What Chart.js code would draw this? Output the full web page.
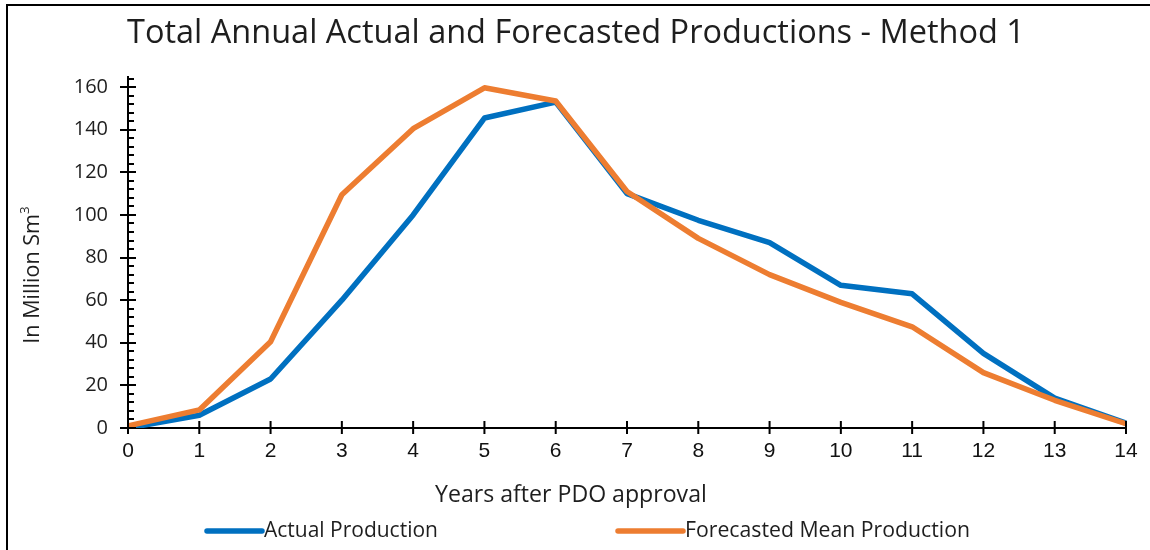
<!DOCTYPE html>
<html>
<head>
<meta charset="utf-8">
<script src="https://cdn.jsdelivr.net/npm/chart.js@4.4.1/dist/chart.umd.min.js"></script>
<style>
  html, body { margin: 0; padding: 0; background: #ffffff; }
  #wrap { width: 1150px; height: 550px; }
</style>
</head>
<body>
<div id="wrap"><canvas id="chart" width="1150" height="550"></canvas></div>
<script>
// Years after PDO approval
const years = [0, 1, 2, 3, 4, 5, 6, 7, 8, 9, 10, 11, 12, 13, 14];
// Annual production, million Sm3
const actualProduction = [0, 6, 23, 60, 100, 145.5, 153, 110, 97.5, 87, 67, 63, 35, 14, 2.3];
const forecastMeanProduction = [1, 8.5, 40.5, 109.5, 140.5, 159.7, 153.5, 111, 89, 72, 59, 47.5, 26, 13, 2];
// Value axis
const yTickLabels = [0, 20, 40, 60, 80, 100, 120, 140, 160];
const yMax = 165;
const yMinorStep = 4;

const titleText = 'Total Annual Actual and Forecasted Productions - Method 1';
const xTitleText = 'Years after PDO approval';
const seriesNames = ['Actual Production', 'Forecasted Mean Production'];
const seriesColors = ['#0070C0', '#ED7D31'];

const FONT = '"Open Sans", Lato, sans-serif';

// Pick a font size so the text spans the given width
function fitFont(ctx, text, family, width, weight) {
  ctx.font = (weight || '') + ' 20px ' + family;
  const w = ctx.measureText(text).width;
  return 20 * width / w;
}

// Frame, title, axis titles, tick marks and legend
const decorations = {
  id: 'decorations',
  afterDraw(chart) {
    const ctx = chart.ctx;
    const xs = chart.scales.x, ys = chart.scales.y;
    const area = chart.chartArea;
    ctx.save();

    // outer frame (top and left edges)
    ctx.strokeStyle = '#000';
    ctx.lineWidth = 2;
    ctx.beginPath();
    ctx.moveTo(6, 5); ctx.lineTo(1150, 5);
    ctx.moveTo(7, 4); ctx.lineTo(7, 550);
    ctx.stroke();

    // tick marks on the value axis
    ctx.lineWidth = 2;
    ctx.beginPath();
    for (let v = 0; v <= yMax; v += yMinorStep) {
      const py = Math.round(ys.getPixelForValue(v));
      if (yTickLabels.includes(v)) {
        ctx.moveTo(area.left - 8, py); ctx.lineTo(area.left + 8, py);
      } else {
        ctx.moveTo(area.left, py); ctx.lineTo(area.left + 6, py);
      }
    }
    // tick marks on the year axis
    years.forEach((y, i) => {
      const px = xs.getPixelForValue(i);
      ctx.moveTo(px, area.bottom - 7); ctx.lineTo(px, area.bottom + 6);
    });
    ctx.stroke();

    ctx.fillStyle = '#1e1e1e';
    ctx.textBaseline = 'middle';

    // chart title
    let fs = fitFont(ctx, titleText, FONT, 898);
    ctx.font = fs + 'px ' + FONT;
    ctx.textAlign = 'left';
    ctx.fillText(titleText, 127, 34);

    // x axis title
    fs = fitFont(ctx, xTitleText, FONT, 272);
    ctx.font = fs + 'px ' + FONT;
    ctx.fillText(xTitleText, 435, 495);

    // y axis title with superscript
    ctx.save();
    ctx.translate(33, 275);
    ctx.rotate(-Math.PI / 2);
    const main = 'In Million Sm';
    fs = fitFont(ctx, main, FONT, 130);
    ctx.font = fs + 'px ' + FONT;
    const mw = ctx.measureText(main).width;
    ctx.font = (fs * 0.62) + 'px ' + FONT;
    const sw = ctx.measureText('3').width;
    const startX = -(mw + sw) / 2;
    ctx.font = fs + 'px ' + FONT;
    ctx.fillText(main, startX, 0);
    ctx.font = (fs * 0.62) + 'px ' + FONT;
    ctx.fillText('3', startX + mw, -fs * 0.38);
    ctx.restore();

    // legend
    const legend = [
      { x0: 207, x1: 262, tx: 264, tw: 174 },
      { x0: 618, x1: 683, tx: 685, tw: 285 }
    ];
    legend.forEach((l, i) => {
      ctx.strokeStyle = seriesColors[i];
      ctx.lineWidth = 5.5;
      ctx.lineCap = 'round';
      ctx.beginPath();
      ctx.moveTo(l.x0, 531); ctx.lineTo(l.x1, 531);
      ctx.stroke();
      const f = fitFont(ctx, seriesNames[i], FONT, l.tw);
      ctx.font = f + 'px ' + FONT;
      ctx.fillStyle = '#1e1e1e';
      ctx.fillText(seriesNames[i], l.tx, 531);
    });

    ctx.restore();
  }
};

new Chart(document.getElementById('chart'), {
  type: 'line',
  data: {
    labels: years.map(String),
    datasets: [
      {
        label: seriesNames[0],
        data: actualProduction,
        borderColor: seriesColors[0],
        backgroundColor: seriesColors[0],
        borderWidth: 5.5,
        pointRadius: 0,
        tension: 0,
        borderJoinStyle: 'round',
        order: 2
      },
      {
        label: seriesNames[1],
        data: forecastMeanProduction,
        borderColor: seriesColors[1],
        backgroundColor: seriesColors[1],
        borderWidth: 5.5,
        pointRadius: 0,
        tension: 0,
        borderJoinStyle: 'round',
        order: 1
      }
    ]
  },
  options: {
    responsive: false,
    animation: false,
    devicePixelRatio: 1,
    layout: { padding: { top: 76.5, left: 0, right: 24, bottom: 0 } },
    plugins: {
      legend: { display: false },
      title: { display: false },
      tooltip: { enabled: false }
    },
    scales: {
      x: {
        type: 'category',
        offset: false,
        grid: { display: true, drawOnChartArea: false, drawTicks: false },
        border: { display: true, color: '#000', width: 2 },
        ticks: {
          color: '#111',
          font: { family: '"Liberation Sans", Arial, sans-serif', size: 21 },
          padding: 11,
          maxRotation: 0,
          autoSkip: false
        },
        afterFit(scale) { scale.height = 122; }
      },
      y: {
        min: 0,
        max: yMax,
        grid: { display: true, drawOnChartArea: false, drawTicks: false },
        border: { display: true, color: '#000', width: 2 },
        ticks: {
          stepSize: 20,
          includeBounds: false,
          color: '#1e1e1e',
          font: { family: FONT, size: 20 },
          padding: 20
        },
        afterFit(scale) { scale.width = 128; }
      }
    }
  },
  plugins: [decorations]
});
</script>
</body>
</html>
